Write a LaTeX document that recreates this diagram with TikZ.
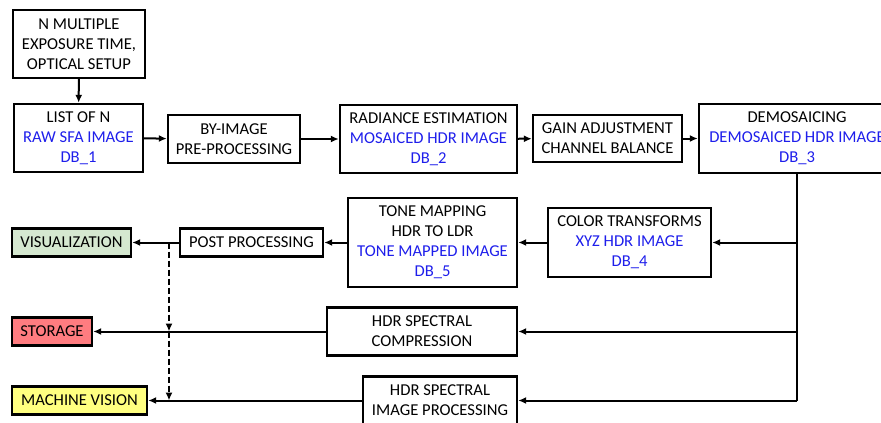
\documentclass[tikz,border=0pt]{standalone}
\usepackage{fontspec}
\setmainfont{Carlito}
\usetikzlibrary{arrows.meta}

\definecolor{dbblue}{RGB}{30,30,235}
\definecolor{visgreen}{RGB}{213,232,208}
\definecolor{storered}{RGB}{255,124,128}
\definecolor{mvyellow}{RGB}{255,255,128}

\newcommand{\db}[1]{\textcolor{dbblue}{#1}}

\begin{document}
\begin{tikzpicture}[x=1pt,y=-1pt,
    blockbox/.style={draw,line width=2.4pt,align=center,inner sep=0pt,
        font=\fontsize{16.6}{20}\selectfont},
    flow/.style={line width=2pt,-{Latex[length=8pt,width=7pt]}},
    plain/.style={line width=2pt},
    dashflow/.style={flow,dashed,dash pattern=on 6pt off 3pt}]

    %frame:
    \useasboundingbox (0,0) rectangle (881,423);
    \clip (0,0) rectangle (881,423);

    %top row:
    \node[blockbox,minimum width=132pt,minimum height=68pt] (setup) at (79,44)
        {N MULTIPLE\\EXPOSURE TIME,\\OPTICAL SETUP};
    \node[blockbox,minimum width=129pt,minimum height=68pt] (list) at (78.5,138)
        {LIST OF N\\\db{RAW SFA IMAGE}\\\db{DB\_1}};
    \node[blockbox,minimum width=132pt,minimum height=48pt] (preproc) at (234,139)
        {BY-IMAGE\\PRE-PROCESSING};
    \node[blockbox,minimum width=177pt,minimum height=68pt] (radiance) at (428.5,139)
        {RADIANCE ESTIMATION\\\db{MOSAICED HDR IMAGE}\\\db{DB\_2}};
    \node[blockbox,minimum width=149pt,minimum height=47pt] (gain) at (607.5,138.5)
        {GAIN ADJUSTMENT\\CHANNEL BALANCE};
    \node[blockbox,minimum width=196pt,minimum height=69pt] (demosaic) at (797,138.5)
        {DEMOSAICING\\\db{DEMOSAICED HDR IMAGE}\\\db{DB\_3}};

    %middle row:
    \node[blockbox,minimum width=163pt,minimum height=69pt] (color) at (629.5,242.5)
        {COLOR TRANSFORMS\\\db{XYZ HDR IMAGE}\\\db{DB\_4}};
    \node[blockbox,minimum width=169pt,minimum height=89pt] (tone) at (432.5,242.5)
        {TONE MAPPING\\HDR TO LDR\\\db{TONE MAPPED IMAGE}\\\db{DB\_5}};
    \node[blockbox,minimum width=143pt,minimum height=28pt] (post) at (251.5,242.5)
        {POST PROCESSING};
    \node[blockbox,minimum width=190pt,minimum height=48pt] (compress) at (422,331.5)
        {HDR SPECTRAL\\COMPRESSION};
    \node[blockbox,minimum width=154pt,minimum height=48pt] (spectral) at (440,400.5)
        {HDR SPECTRAL\\IMAGE PROCESSING};

    %outputs:
    \node[blockbox,fill=visgreen,minimum width=119pt,minimum height=28pt] (vis) at (71.5,242.5)
        {VISUALIZATION};
    \node[blockbox,fill=storered,minimum width=80pt,minimum height=28pt] (storage) at (52,331.5)
        {STORAGE};
    \node[blockbox,fill=mvyellow,minimum width=135pt,minimum height=28pt] (machine) at (79.5,400.5)
        {MACHINE VISION};

    \coordinate (bus) at (797,400.5);
    \coordinate (tap) at (169,242.5);

    %arrows top row:
    \draw[flow] (setup) -- (list);
    \draw[flow] (list) -- (preproc);
    \draw[flow] (preproc) -- (radiance);
    \draw[flow] (radiance) -- (gain);
    \draw[flow] (gain) -- (demosaic);

    %split line:
    \draw[plain] (demosaic) -- (bus);
    \draw[flow] (demosaic.south |- color) -- (color);
    \draw[flow] (demosaic.south |- compress) -- (compress);
    \draw[flow] (bus) -- (spectral);

    %arrows to outputs:
    \draw[flow] (color) -- (tone);
    \draw[flow] (tone) -- (post);
    \draw[flow] (post) -- (vis);
    \draw[flow] (compress) -- (storage);
    \draw[flow] (spectral) -- (machine);
    \draw[dashflow] (tap) -- (tap |- storage);
    \draw[dashflow] (tap |- storage) -- (tap |- machine);

\end{tikzpicture}
\end{document}
